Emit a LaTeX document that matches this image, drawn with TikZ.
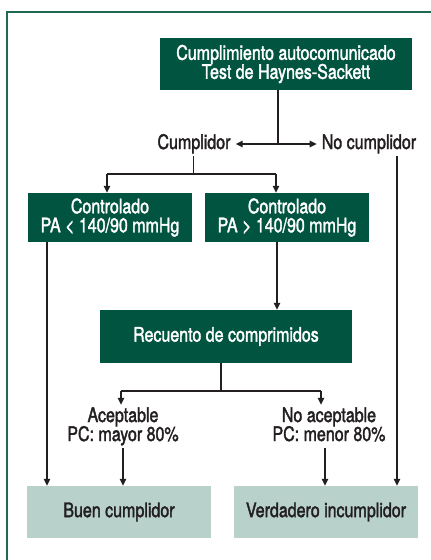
\documentclass[tikz,border=0pt]{standalone}
\usepackage{fontspec}
\setmainfont{TeX Gyre Heros}[FakeStretch=0.80,FakeBold=1.8]
\usetikzlibrary{arrows.meta,calc}
\definecolor{dkgreen}{HTML}{005440}
\definecolor{ltgreen}{HTML}{B8D2CB}
\definecolor{framegreen}{HTML}{1F6B52}
\definecolor{ink}{HTML}{231F20}
\protected\def\diagfont{\fontsize{20}{19}\selectfont\lineskiplimit=-10pt\relax\lineskip=0pt\relax}
\begin{document}
\begin{tikzpicture}[x=1pt,y=-1pt,
  txt/.style={font=\diagfont, align=center},
  darkbox/.style={txt, fill=dkgreen, text=white, inner sep=0pt},
  lightbox/.style={txt, fill=ltgreen, text=ink, inner sep=0pt},
  lbl/.style={txt, text=ink, inner xsep=5pt, inner ysep=2.5pt, text height=14.5pt, text depth=4.5pt},
  conn/.style={draw=ink, line width=1.4pt},
  arr/.style={conn, -{Triangle[length=7pt,width=6.5pt]}}
]
\useasboundingbox (0,0) rectangle (431,560);
\fill[white] (0,0) rectangle (431,560);
% frame
\draw[framegreen, line width=2pt] (7,560) -- (7,11.5) -- (431,11.5);

% nodes
\node[darkbox, minimum width=252pt, minimum height=52pt] (top) at (286,64)
  {Cumplimiento autocomunicado\\Test de Haynes-Sackett};
\node[lbl] (cump) at (194,144) {Cumplidor};
\node[lbl] (nocump) at (369,144) {No cumplidor};
\node[darkbox, minimum width=164pt, minimum height=49pt] (ctrlL) at (110,217.5)
  {Controlado\\PA < 140/90 mmHg};
\node[darkbox, minimum width=164pt, minimum height=49pt] (ctrlR) at (287,217.5)
  {Controlado\\PA > 140/90 mmHg};
\node[darkbox, minimum width=252pt, minimum height=53pt] (recu) at (226,336.5)
  {Recuento de comprimidos};
\node[lbl, text height=33.5pt] (acep) at (123,426.5) {Aceptable\\PC: mayor 80\%};
\node[lbl, text height=33.5pt] (noacep) at (329,426.5) {No aceptable\\PC: menor 80\%};
\node[lightbox, minimum width=184pt, minimum height=52pt] (buen) at (119,512)
  {Buen cumplidor};
\node[lightbox, minimum width=184pt, minimum height=52pt] (verd) at (326,512)
  {Verdadero incumplidor};

% junctions
\coordinate (s1) at (278,144);
\coordinate (j1) at (193.5,174);
\coordinate (aL) at (107,174);
\coordinate (aR) at (276,174);
\coordinate (xL) at (47,0);
\coordinate (xR) at (277,0);
\coordinate (xN) at (397,0);
\coordinate (s2) at (221,391);
\coordinate (bL) at (121,391);
\coordinate (bR) at (321,391);
\coordinate (xA) at (123,0);
\coordinate (xB) at (325,0);

% connectors
\draw[conn] (top.south -| s1) -- (s1);
\draw[arr] (s1) -- (cump.east |- s1);
\draw[arr] (s1) -- (nocump.west |- s1);
\draw[conn] (cump.south -| j1) -- (j1);
\draw[conn] (aL) -- (aR);
\draw[arr] (aL) -- (ctrlL.north -| aL);
\draw[arr] (aR) -- (ctrlR.north -| aR);
\draw[arr] (ctrlL.south -| xL) -- (buen.north -| xL);
\draw[arr] (ctrlR.south -| xR) -- (recu.north -| xR);
\draw[arr] (nocump.south -| xN) -- (verd.north -| xN);
\draw[conn] (recu.south -| s2) -- (s2);
\draw[conn] (bL) -- (bR);
\draw[arr] (bL) -- (acep.north -| bL);
\draw[arr] (bR) -- (noacep.north -| bR);
\draw[arr] (acep.south -| xA) -- (buen.north -| xA);
\draw[arr] (noacep.south -| xB) -- (verd.north -| xB);
\end{tikzpicture}
\end{document}
